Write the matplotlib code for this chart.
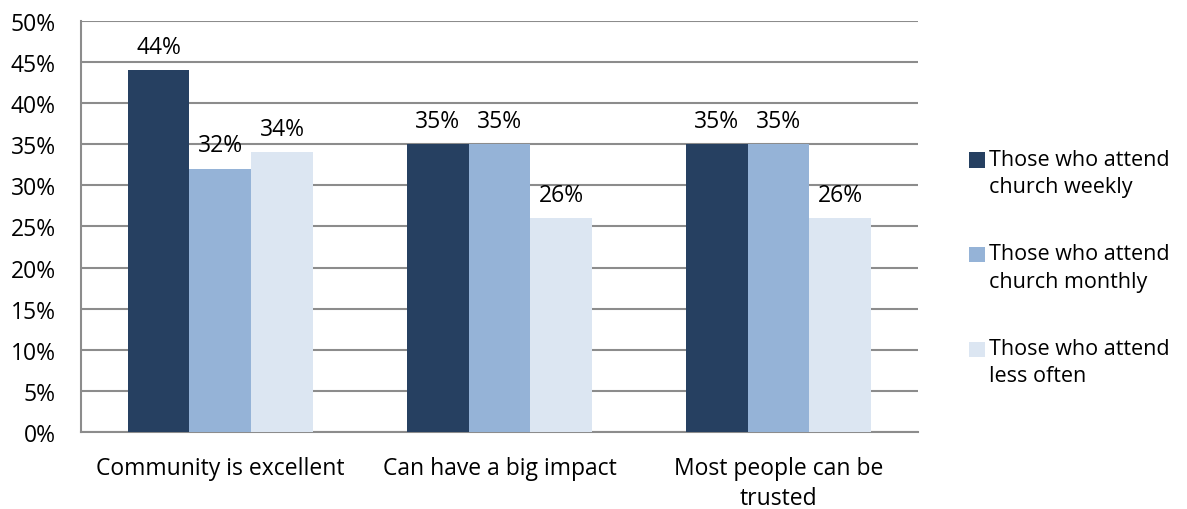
import numpy as np
import matplotlib.pyplot as plt
from matplotlib.patches import Rectangle
from matplotlib.container import BarContainer
from matplotlib.legend_handler import HandlerPatch

plt.rcParams['font.family'] = ['Open Sans', 'DejaVu Sans']

# survey results, percent agreeing
categories = ['Community is excellent', 'Can have a big impact', 'Most people can be\ntrusted']
series_names = ['Those who attend\nchurch weekly', 'Those who attend\nchurch monthly', 'Those who attend\nless often']
weekly = [44, 35, 35]
monthly = [32, 35, 35]
less_often = [34, 26, 26]
yticks = [0, 5, 10, 15, 20, 25, 30, 35, 40, 45, 50]

colors = ['#264061', '#95B3D7', '#DCE6F2']
values = [weekly, monthly, less_often]
fs = 16.5

fig = plt.figure(figsize=(11.87, 5.10), dpi=100)
ax = fig.add_axes([0.0682, 0.151, 0.7052, 0.806])

x = np.arange(len(categories))
w = 0.222
for i, (name, vals, c) in enumerate(zip(series_names, values, colors)):
    pos = x + (i - 1) * w
    bars = ax.bar(pos, vals, width=w, color=c, label=name, zorder=3)
    for b, v in zip(bars, vals):
        ax.text(b.get_x() + b.get_width() / 2, v + 1.4, f'{v}%',
                ha='center', va='bottom', fontsize=fs, color='#000000')

ax.set_xlim(-0.5, len(categories) - 0.5)
ax.set_ylim(0, 50)
ax.set_yticks(yticks)
ax.set_yticklabels([f'{t}%' for t in yticks], fontsize=fs)
ax.set_xticks(x)
ax.set_xticklabels(categories, fontsize=fs, linespacing=1.35)
ax.tick_params(axis='x', length=0, pad=17)
ax.tick_params(axis='y', length=0, pad=18)

ax.grid(axis='y', color='#8C8C8C', linewidth=1.5, zorder=0)
for side in ['top', 'right']:
    ax.spines[side].set_visible(False)
for side in ['left', 'bottom']:
    ax.spines[side].set_color('#8C8C8C')
    ax.spines[side].set_linewidth(1.5)


# legend squares sit beside the first line of each label
def top_square(legend, orig_handle, xdescent, ydescent, width, height, fontsize):
    return Rectangle((-xdescent, -ydescent + 0.62 * fontsize), width, height)


def copy_bar_style(legend_handle, orig_handle):
    legend_handle.set_facecolor(orig_handle.patches[0].get_facecolor())
    legend_handle.set_edgecolor('none')
    legend_handle.set_linewidth(0)


leg = ax.legend(loc='center left', bbox_to_anchor=(1.051, 0.40), frameon=False,
                fontsize=15.5, handlelength=0.72, handleheight=0.72, handletextpad=0.2,
                labelspacing=2.15, borderaxespad=0,
                handler_map={BarContainer: HandlerPatch(patch_func=top_square,
                                                        update_func=copy_bar_style)})
for t in leg.get_texts():
    t.set_linespacing(1.4)

fig.savefig('out.png', dpi=100)
